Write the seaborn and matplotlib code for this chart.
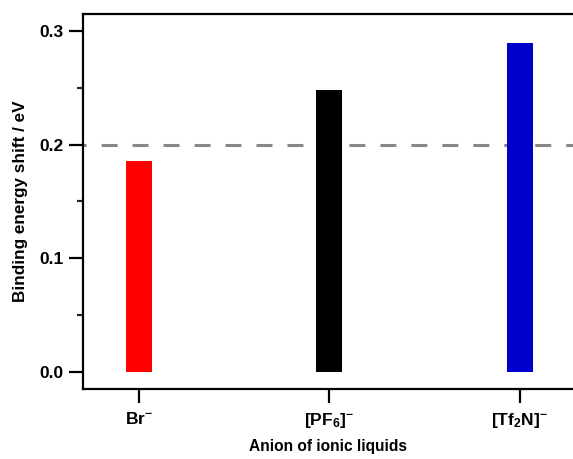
import matplotlib
matplotlib.use("Agg")
import matplotlib.pyplot as plt
import seaborn as sns
import pandas as pd
from matplotlib.ticker import MultipleLocator

categories = ["Br$^{-}$", "[PF$_{6}$]$^{-}$", "[Tf$_{2}$N]$^{-}$"]
values = [0.186, 0.248, 0.289]
colors = ["#FF0000", "#000000", "#0000CC"]
ref_level = 0.2

sns.set_theme(style="ticks")
plt.rcParams["font.family"] = ["Liberation Sans", "DejaVu Sans"]
plt.rcParams["font.weight"] = "bold"
plt.rcParams["mathtext.fontset"] = "custom"
plt.rcParams["mathtext.rm"] = "Liberation Sans:bold"
plt.rcParams["mathtext.bf"] = "Liberation Sans:bold"
plt.rcParams["mathtext.it"] = "Liberation Sans:bold"
plt.rcParams["mathtext.default"] = "bf"

df = pd.DataFrame({"anion": categories, "shift": values})

fig = plt.figure(figsize=(5.73, 4.59), dpi=100)
ax = fig.add_axes([83 / 573, (459 - 389) / 459, 490 / 573, (389 - 14) / 459])

sns.barplot(data=df, x="anion", y="shift", hue="anion", palette=colors,
            width=0.137, legend=False, ax=ax, saturation=1,
            edgecolor="none")

lw = 2.2
ax.axhline(ref_level, color="#888888", lw=lw,
           ls=(4.2, (11.5 / lw, 10.8 / lw)), zorder=0)

ax.set_xlim(-0.295, 2.28)
ax.set_ylim(-0.0147, 0.3147)
ax.yaxis.set_major_locator(MultipleLocator(0.1))
ax.yaxis.set_minor_locator(MultipleLocator(0.05))
ax.set_yticks([0.0, 0.1, 0.2, 0.3])
ax.set_yticklabels(["0.0", "0.1", "0.2", "0.3"])

for s in ["left", "top", "bottom"]:
    ax.spines[s].set_linewidth(1.6)
    ax.spines[s].set_color("black")
ax.spines["right"].set_visible(False)

ax.tick_params(axis="both", which="major", length=10, width=1.6, direction="out",
               labelsize=12.5, colors="black")
ax.tick_params(axis="y", which="major", pad=4)
ax.tick_params(axis="x", which="major", pad=6)
ax.tick_params(axis="y", which="minor", length=4.5, width=1.6, direction="out")
ax.tick_params(axis="x", which="minor", length=0)

ax.set_xlabel("Anion of ionic liquids", fontsize=11.2, fontweight="bold",
              labelpad=6, color="black")
ax.set_ylabel("Binding energy shift / eV", fontsize=12.3, fontweight="bold",
              labelpad=8, color="black")

fig.savefig("out.png", dpi=100)
